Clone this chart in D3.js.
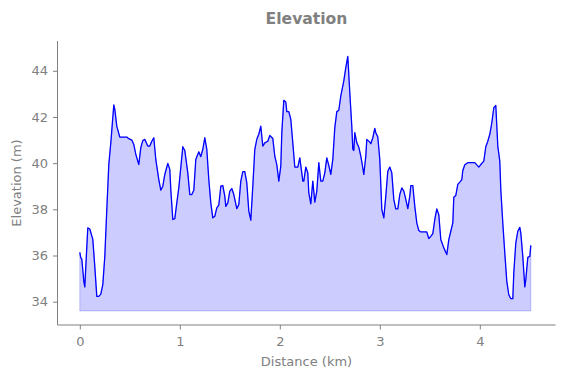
<!DOCTYPE html>
<html>
<head>
<meta charset="utf-8">
<script src="https://cdn.jsdelivr.net/npm/d3@7"></script>
<style>
    body { margin: 0; background: #fff; }
    text { font-family: "DejaVu Sans", sans-serif; fill: #808080; }
</style>
</head>
<body>
<div id="chart"></div>
<script>

// ----- data ----- //

var distance_km = [
    0.00, 0.01, 0.02, 0.04, 0.05, 0.06, 0.08, 0.10, 0.13, 0.15, 0.17, 0.19, 0.21, 0.23, 0.25, 0.27, 0.29, 0.31, 0.34, 0.35,
    0.37, 0.40, 0.42, 0.47, 0.49, 0.52, 0.54, 0.56, 0.59, 0.61, 0.63, 0.65, 0.68, 0.70, 0.72, 0.74, 0.76, 0.79, 0.81, 0.83,
    0.85, 0.88, 0.90, 0.91, 0.93, 0.95, 0.97, 0.99, 1.03, 1.05, 1.08, 1.10, 1.12, 1.14, 1.16, 1.19, 1.21, 1.23, 1.25, 1.27,
    1.29, 1.31, 1.33, 1.35, 1.37, 1.39, 1.41, 1.43, 1.45, 1.46, 1.48, 1.50, 1.52, 1.54, 1.57, 1.59, 1.61, 1.63, 1.65, 1.67,
    1.69, 1.71, 1.73, 1.75, 1.77, 1.79, 1.81, 1.83, 1.85, 1.88, 1.90, 1.93, 1.95, 1.97, 1.99, 2.01, 2.02, 2.04, 2.06, 2.07,
    2.09, 2.11, 2.13, 2.15, 2.18, 2.20, 2.22, 2.23, 2.24, 2.26, 2.28, 2.29, 2.31, 2.33, 2.35, 2.37, 2.39, 2.41, 2.43, 2.45,
    2.47, 2.49, 2.51, 2.53, 2.55, 2.57, 2.59, 2.61, 2.64, 2.66, 2.68, 2.70, 2.72, 2.73, 2.74, 2.75, 2.77, 2.79, 2.81, 2.83,
    2.84, 2.86, 2.87, 2.90, 2.91, 2.93, 2.95, 2.96, 2.98, 3.00, 3.02, 3.04, 3.06, 3.08, 3.10, 3.12, 3.14, 3.16, 3.18, 3.20,
    3.22, 3.24, 3.26, 3.28, 3.30, 3.31, 3.33, 3.35, 3.37, 3.39, 3.41, 3.47, 3.49, 3.51, 3.53, 3.55, 3.57, 3.59, 3.61, 3.64,
    3.67, 3.69, 3.71, 3.73, 3.74, 3.76, 3.78, 3.80, 3.82, 3.83, 3.85, 3.88, 3.95, 3.99, 4.01, 4.04, 4.06, 4.08, 4.10, 4.12,
    4.14, 4.16, 4.18, 4.20, 4.21, 4.23, 4.25, 4.27, 4.29, 4.31, 4.33, 4.34, 4.36, 4.38, 4.40, 4.41, 4.43, 4.45, 4.46, 4.48,
    4.50, 4.51
]

var elevation_m = [
    36.14, 35.90, 35.85, 34.88, 34.64, 35.53, 37.20, 37.15, 36.70, 35.53, 34.23, 34.23, 34.33, 34.74, 35.96, 38.00, 39.94, 40.88, 42.52, 42.33,
    41.60, 41.13, 41.13, 41.13, 41.06, 41.00, 40.81, 40.38, 39.94, 40.67, 40.98, 41.03, 40.74, 40.74, 40.95, 41.10, 40.16, 39.29, 38.83, 39.00,
    39.51, 39.99, 39.73, 38.86, 37.56, 37.60, 38.28, 38.93, 40.71, 40.55, 39.58, 38.64, 38.64, 38.83, 40.16, 40.49, 40.28, 40.60, 41.10, 40.60,
    39.29, 38.28, 37.63, 37.70, 38.06, 38.18, 39.00, 39.03, 38.57, 38.13, 38.28, 38.79, 38.90, 38.64, 38.03, 38.21, 39.22, 39.63, 39.63, 39.15,
    37.92, 37.53, 39.00, 40.60, 41.03, 41.25, 41.60, 40.74, 40.88, 40.95, 41.20, 41.07, 40.30, 39.94, 39.22, 39.87, 41.32, 42.72, 42.65, 42.23,
    42.23, 41.90, 40.88, 39.83, 39.83, 40.23, 39.58, 39.22, 39.22, 39.83, 39.58, 38.71, 38.24, 39.22, 38.31, 38.79, 40.02, 39.22, 39.22, 39.58,
    40.23, 39.90, 39.51, 40.16, 41.54, 42.23, 42.29, 42.91, 43.56, 44.14, 44.62, 43.06, 41.60, 40.60, 40.55, 41.32, 40.88, 40.69, 40.30, 39.80,
    39.51, 40.30, 41.03, 40.91, 40.84, 41.10, 41.50, 41.32, 41.13, 40.16, 38.00, 37.63, 38.57, 39.65, 39.83, 39.58, 38.43, 38.02, 38.02, 38.64,
    38.93, 38.79, 38.43, 38.03, 38.57, 39.03, 39.03, 38.13, 37.41, 37.08, 37.02, 37.02, 36.73, 36.83, 36.95, 37.56, 38.02, 37.77, 36.69, 36.33,
    36.04, 36.69, 37.05, 37.41, 38.52, 38.60, 39.08, 39.18, 39.29, 39.68, 39.93, 40.02, 40.02, 39.83, 39.94, 40.09, 40.71, 40.95, 41.25, 41.75,
    42.40, 42.50, 40.74, 40.09, 38.86, 37.41, 36.11, 34.88, 34.30, 34.13, 34.13, 35.25, 36.55, 37.05, 37.22, 36.98, 35.96, 34.64, 34.95, 35.92,
    35.96, 36.44
]

var fill_base = 33.6

var x_ticks = [0, 1, 2, 3, 4]
var y_ticks = [34, 36, 38, 40, 42, 44]

var title = "Elevation"
var x_label = "Distance (km)"
var y_label = "Elevation (m)"

var points = distance_km.map(function (d, i) { return { km: d, m: elevation_m[i] } })


// ----- svg, scales ----- //

var svg = d3.select("#chart")
    .append("svg")
    .attr("width", 562)
    .attr("height", 378)

// note: "top" is taken by window.top, so plot_* names
var plot_left = 57.5, plot_right = 555.5, plot_top = 41, plot_bottom = 325

var xScale = d3.scaleLinear()
    .domain([-0.223, 4.757])
    .range([plot_left, plot_right])

var yScale = d3.scaleLinear()
    .domain([32.99, 45.29])
    .range([plot_bottom, plot_top])


// ----- area + line ----- //

var area = d3.area()
    .x(function (d) { return xScale(d.km) })
    .y0(yScale(fill_base))
    .y1(function (d) { return yScale(d.m) })

svg.append("path")
    .datum(points)
    .attr("d", area)
    .attr("fill", "rgb(204,204,255)")
    .attr("stroke", "rgba(0,0,255,0.2)")
    .attr("stroke-width", 1)

var line = d3.line()
    .x(function (d) { return xScale(d.km) })
    .y(function (d) { return yScale(d.m) })

svg.append("path")
    .datum(points)
    .attr("d", line)
    .attr("fill", "none")
    .attr("stroke", "blue")
    .attr("stroke-width", 1.3)
    .attr("stroke-linejoin", "round")


// ----- axes ----- //

svg.append("g")
    .attr("transform", "translate(0," + plot_bottom + ")")
    .call(d3.axisBottom(xScale).tickValues(x_ticks).tickSize(4.5).tickPadding(7.5).tickFormat(d3.format("d")))

svg.append("g")
    .attr("transform", "translate(" + plot_left + ",0)")
    .call(d3.axisLeft(yScale).tickValues(y_ticks).tickSize(4.5).tickPadding(5).tickFormat(d3.format("d")))

svg.selectAll(".domain").remove()

svg.selectAll(".tick line").attr("stroke", "#808080").attr("stroke-width", 1)
svg.selectAll(".tick text")
    .attr("font-family", "DejaVu Sans, sans-serif")
    .attr("font-size", 13)
    .attr("fill", "#808080")

// spines (left + bottom only)
svg.append("line")
    .attr("x1", plot_left).attr("x2", plot_left)
    .attr("y1", plot_top).attr("y2", plot_bottom)
    .attr("stroke", "#808080").attr("stroke-width", 1)

svg.append("line")
    .attr("x1", plot_left).attr("x2", plot_right)
    .attr("y1", plot_bottom).attr("y2", plot_bottom)
    .attr("stroke", "#808080").attr("stroke-width", 1)


// ----- labels ----- //

svg.append("text")
    .attr("x", (plot_left + plot_right) / 2)
    .attr("y", 24)
    .attr("text-anchor", "middle")
    .style("font-size", "15.6px")
    .style("font-weight", "bold")
    .text(title)

svg.append("text")
    .attr("x", (plot_left + plot_right) / 2)
    .attr("y", 366)
    .attr("text-anchor", "middle")
    .style("font-size", "13px")
    .text(x_label)

svg.append("text")
    .attr("transform", "translate(" + 21 + "," + (plot_top + plot_bottom) / 2 + ") rotate(-90)")
    .attr("text-anchor", "middle")
    .style("font-size", "13px")
    .text(y_label)

</script>
</body>
</html>
